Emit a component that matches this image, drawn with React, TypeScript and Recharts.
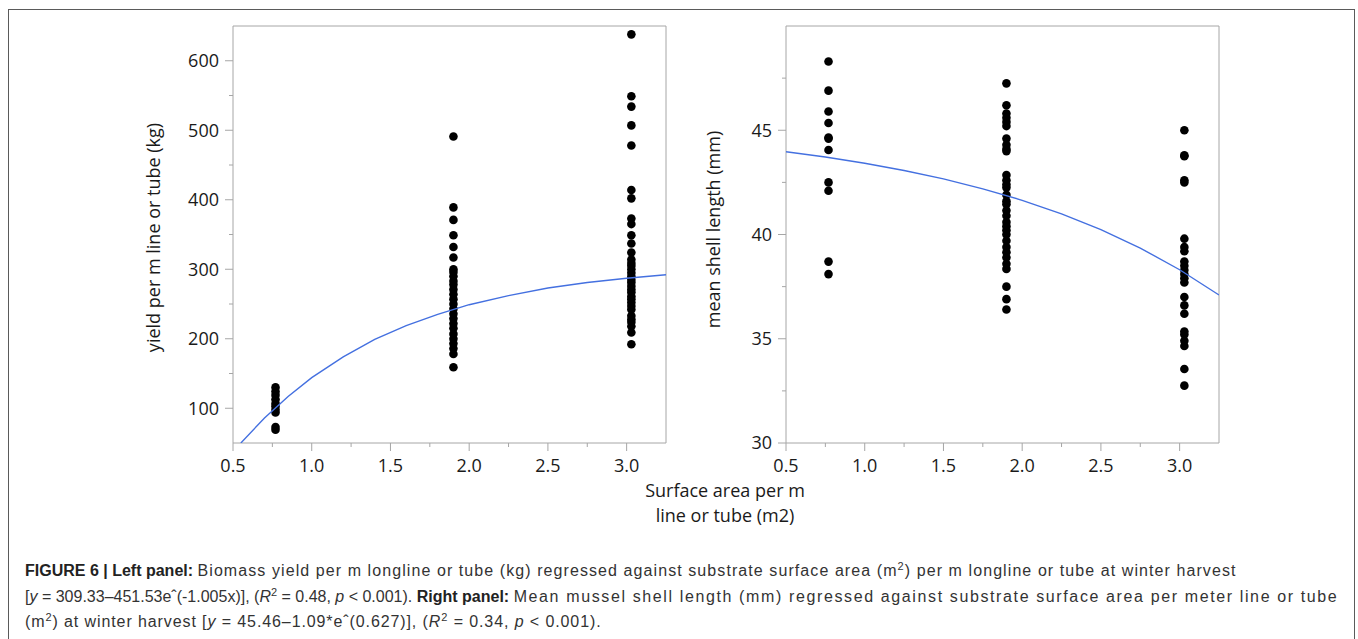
import React from 'react'
import { ScatterChart, Scatter, XAxis, YAxis, ReferenceLine, Label } from 'recharts'

// surface area per m line or tube (m2) for each treatment group
const groupX = [0.77, 1.9, 3.03]

// left panel: yield per m line or tube (kg)
const yieldLow = [130, 124, 119, 113, 107, 103, 98, 94, 73, 69]
const yieldMid = [491, 389, 371, 349, 332, 317, 300, 296, 290, 283, 278, 271, 264, 257, 250, 243, 236, 229, 222, 215, 207, 200, 193, 186, 178, 159]
const yieldHigh = [638, 549, 534, 507, 478, 414, 402, 373, 365, 349, 337, 324, 314, 309, 305, 300, 295, 290, 285, 281, 276, 271, 267, 261, 257, 252, 247, 242, 233, 228, 224, 218, 209, 192]

// right panel: mean shell length (mm)
const shellLow = [48.3, 46.9, 45.9, 45.35, 44.65, 44.6, 44.05, 42.5, 42.1, 38.7, 38.1]
const shellMid = [47.25, 46.2, 45.8, 45.6, 45.4, 45.2, 44.6, 44.3, 44.1, 44.0, 42.85, 42.6, 42.4, 42.25, 41.9, 41.6, 41.45, 41.15, 40.9, 40.6, 40.4, 40.2, 40.0, 39.7, 39.4, 39.15, 38.9, 38.6, 38.35, 37.5, 36.9, 36.4]
const shellHigh = [45.0, 43.8, 43.75, 42.6, 42.5, 39.8, 39.4, 39.2, 38.7, 38.5, 38.3, 38.1, 37.9, 37.7, 37.0, 36.6, 36.2, 35.35, 35.2, 34.9, 34.65, 33.55, 32.75]

// fitted curves
const yieldFitX = [0.55, 0.7, 0.85, 1.0, 1.2, 1.4, 1.6, 1.8, 2.0, 2.25, 2.5, 2.75, 3.0, 3.25]
const yieldFitY = [50, 86, 117, 144, 174, 199, 219, 235, 249, 262, 273, 281, 287, 292]
const shellFitX = [0.5, 0.75, 1.0, 1.25, 1.5, 1.75, 2.0, 2.25, 2.5, 2.75, 3.0, 3.25]
const shellFitY = [43.97, 43.72, 43.42, 43.07, 42.67, 42.19, 41.64, 40.99, 40.23, 39.35, 38.31, 37.1]

const xTicks = [0.5, 0.75, 1.0, 1.25, 1.5, 1.75, 2.0, 2.25, 2.5, 2.75, 3.0]
const yieldTicks = [100, 150, 200, 250, 300, 350, 400, 450, 500, 550, 600]
const shellTicks = [30, 32.5, 35, 37.5, 40, 42.5, 45, 47.5]

const FONT = '"Open Sans", "Noto Sans", sans-serif'
const CAPTION_FONT = '"Liberation Sans", Arial, sans-serif'
const AXIS = '#a6a6a6'
const INK = '#1a1a1a'
const FIT = '#4470e0'
const TICK_SIZE = 8
const TICK_MARGIN = 8

const toPoints = (x: number, ys: number[]) => ys.map((y) => ({ x, y }))
const toCurve = (xs: number[], ys: number[]) => xs.map((x, i) => ({ x, y: ys[i] }))

function XTick({ x, y, payload }: any) {
  const v = payload.value as number
  const major = Math.abs(v * 2 - Math.round(v * 2)) < 1e-6
  const top = y - TICK_SIZE - TICK_MARGIN
  return (
    <g>
      <line x1={x} x2={x} y1={top} y2={top + (major ? 8 : 4)} stroke={AXIS} />
      {major && (
        <text x={x} y={y} dy="0.71em" textAnchor="middle" fontSize={18} fill={INK} fontFamily={FONT}>
          {v.toFixed(1)}
        </text>
      )}
    </g>
  )
}

function makeYTick(step: number) {
  return function YTick({ x, y, payload }: any) {
    const v = payload.value as number
    const major = Math.abs(v / step - Math.round(v / step)) < 1e-6
    const right = x + TICK_SIZE + TICK_MARGIN
    return (
      <g>
        <line x1={right - (major ? 8 : 4)} x2={right} y1={y} y2={y} stroke={AXIS} />
        {major && (
          <text x={x + 2} y={y} dy="0.35em" textAnchor="end" fontSize={18} fill={INK} fontFamily={FONT}>
            {v}
          </text>
        )}
      </g>
    )
  }
}

const dot = (p: any) => <circle cx={p.cx} cy={p.cy} r={4.3} fill="#000" />
const noDot = () => <g />

function yTitle(text: string, dx: number, dy: number) {
  return ({ viewBox }: any) => {
    const cx = viewBox.x + dx
    const cy = viewBox.y + viewBox.height / 2 + dy
    return (
      <text x={cx} y={cy} transform={`rotate(-90 ${cx} ${cy})`} textAnchor="middle" dominantBaseline="central"
        fontSize={18} fill={INK} fontFamily={FONT}>
        {text}
      </text>
    )
  }
}

function Panel(props: {
  left: number
  yAxisWidth: number
  groups: number[][]
  fitX: number[]
  fitY: number[]
  yDomain: [number, number]
  yTicks: number[]
  yStep: number
  title: string
  titleDx: number
  titleDy: number
}) {
  const { left, yAxisWidth, groups, fitX, fitY, yDomain, yTicks, yStep, title, titleDx, titleDy } = props
  const width = yAxisWidth + 433 + 2
  return (
    <div style={{ position: 'absolute', left, top: 0 }}>
      <ScatterChart width={width} height={480} margin={{ top: 26, right: 2, bottom: 0, left: 0 }}>
        <XAxis dataKey="x" type="number" domain={[0.5, 3.25]} ticks={xTicks} allowDataOverflow
          height={37} stroke={AXIS} tickLine={false} tickSize={TICK_SIZE} tickMargin={TICK_MARGIN} tick={<XTick />} />
        <YAxis dataKey="y" type="number" domain={yDomain} ticks={yTicks} allowDataOverflow
          width={yAxisWidth} stroke={AXIS} tickLine={false} tickSize={TICK_SIZE} tickMargin={TICK_MARGIN}
          tick={makeYTick(yStep)}>
          <Label content={yTitle(title, titleDx, titleDy)} />
        </YAxis>
        <ReferenceLine y={yDomain[1]} stroke={AXIS} ifOverflow="visible" />
        <ReferenceLine x={3.25} stroke={AXIS} ifOverflow="visible" />
        {groups.map((ys, i) => (
          <Scatter key={i} data={toPoints(groupX[i], ys)} shape={dot} isAnimationActive={false} />
        ))}
        <Scatter data={toCurve(fitX, fitY)} shape={noDot} line={{ stroke: FIT, strokeWidth: 1.4 }}
          lineType="joint" isAnimationActive={false} />
      </ScatterChart>
    </div>
  )
}

const sup = (t: string) => <sup style={{ fontSize: 11, lineHeight: 0 }}>{t}</sup>
const loose = (ls: number, children: React.ReactNode) => <span style={{ letterSpacing: ls }}>{children}</span>

export default function App() {
  return (
    <div style={{ position: 'absolute', left: 0, top: 0, width: 1358, height: 639, background: '#fff', overflow: 'hidden' }}>
      <div style={{ position: 'absolute', left: 8, top: 9, width: 1345, height: 660, border: '1.5px solid #5a5a5a' }} />
      <Panel left={100} yAxisWidth={133} groups={[yieldLow, yieldMid, yieldHigh]} fitX={yieldFitX} fitY={yieldFitY}
        yDomain={[50, 650]} yTicks={yieldTicks} yStep={100} title="yield per m line or tube (kg)" titleDx={53} titleDy={3} />
      <Panel left={660} yAxisWidth={126} groups={[shellLow, shellMid, shellHigh]} fitX={shellFitX} fitY={shellFitY}
        yDomain={[30, 50]} yTicks={shellTicks} yStep={5} title="mean shell length (mm)" titleDx={53} titleDy={-5} />
      <div style={{ position: 'absolute', left: 575, top: 478, width: 300, textAlign: 'center', fontFamily: FONT,
        fontSize: 18, lineHeight: '25px', color: INK }}>
        Surface area per m<br />line or tube (m2)
      </div>
      <div style={{ position: 'absolute', left: 25, top: 558, whiteSpace: 'nowrap', fontFamily: CAPTION_FONT,
        fontSize: 16, lineHeight: '25.5px', color: '#333' }}>
        <b style={{ color: '#222' }}>FIGURE 6 | Left panel:</b>{' '}
        {loose(1.08, <>Biomass yield per m longline or tube (kg) regressed against substrate surface area (m{sup('2')}) per m longline or tube at winter harvest</>)}
        <br />
        [<i>y</i> = 309.33–451.53eˆ(-1.005x)], (<i>R</i>{sup('2')} = 0.48, <i>p</i> &lt; 0.001).{' '}
        <b style={{ color: '#222' }}>Right panel:</b>{' '}
        {loose(1.62, <>Mean mussel shell length (mm) regressed against substrate surface area per meter line or tube</>)}
        <br />
        {loose(0.9, <>(m{sup('2')}) at winter harvest [<i>y</i> = 45.46–1.09*eˆ(0.627)], (<i>R</i>{sup('2')} = 0.34, <i>p</i> &lt; 0.001).</>)}
      </div>
    </div>
  )
}
